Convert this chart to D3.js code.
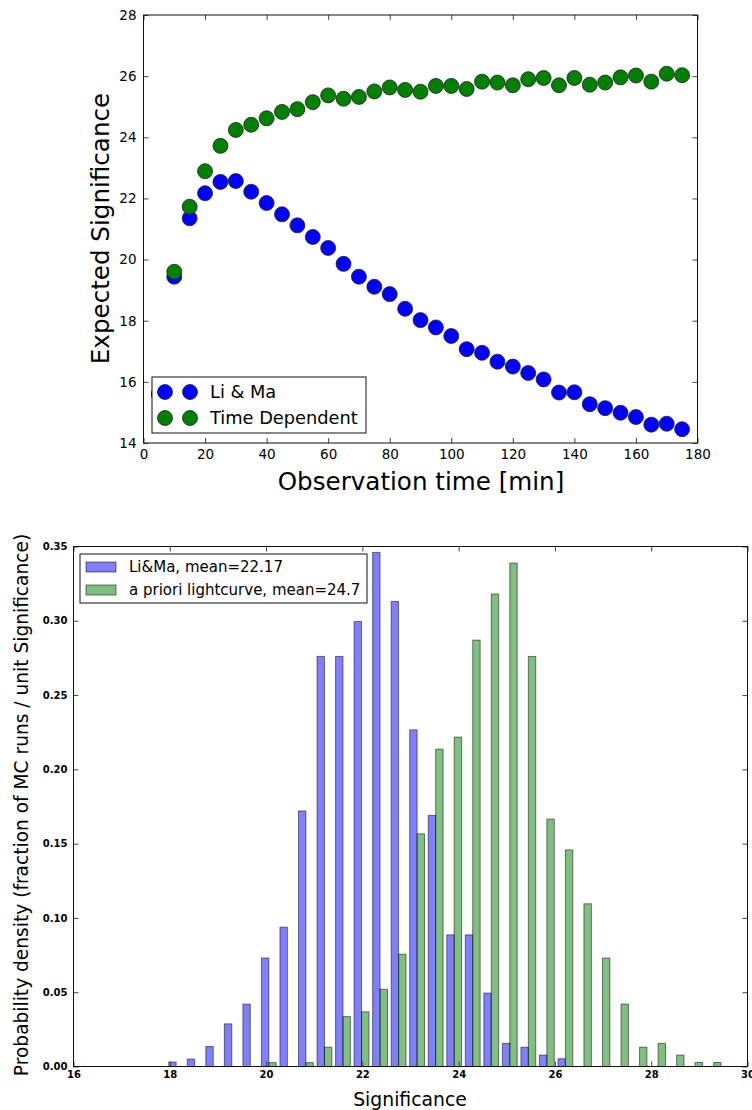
<!DOCTYPE html>
<html>
<head>
<meta charset="utf-8">
<script src="https://cdnjs.cloudflare.com/ajax/libs/d3/7.8.5/d3.min.js"></script>
<style>
  body { margin: 0; background: #fff; }
  svg { display: block; font-family: 'DejaVu Sans', sans-serif; }
  .tick text { fill: #000; }
</style>
</head>
<body>
<div class="canvas"></div>
<script>
// ---- top chart data: expected significance vs observation time
const obsTime = [5, 10, 15, 20, 25, 30, 35, 40, 45, 50, 55, 60, 65, 70, 75, 80, 85, 90,
  95, 100, 105, 110, 115, 120, 125, 130, 135, 140, 145, 150, 155, 160, 165, 170, 175];
const liMa = [15.6, 19.44, 21.35, 22.17, 22.54, 22.57, 22.22, 21.85, 21.48, 21.12, 20.74, 20.38,
  19.86, 19.44, 19.11, 18.87, 18.39, 18.02, 17.78, 17.50, 17.07, 16.95, 16.66, 16.50,
  16.29, 16.08, 15.65, 15.66, 15.27, 15.14, 14.99, 14.85, 14.60, 14.63, 14.45];
const timeDep = [15.6, 19.60, 21.73, 22.89, 23.72, 24.24, 24.41, 24.62, 24.83, 24.92, 25.15, 25.37,
  25.26, 25.32, 25.50, 25.63, 25.55, 25.49, 25.68, 25.68, 25.58, 25.82, 25.79, 25.70,
  25.90, 25.94, 25.70, 25.94, 25.72, 25.79, 25.96, 26.02, 25.82, 26.08, 26.03];
const topXTicks = [0, 20, 40, 60, 80, 100, 120, 140, 160, 180];
const topYTicks = [14, 16, 18, 20, 22, 24, 26, 28];

// ---- bottom chart data: histogram of significances (30 bins)
const binEdges = [17.94, 18.325, 18.71, 19.095, 19.48, 19.865, 20.25, 20.635, 21.02, 21.405,
  21.79, 22.175, 22.56, 22.945, 23.33, 23.715, 24.10, 24.485, 24.87, 25.255,
  25.64, 26.025, 26.41, 26.795, 27.18, 27.565, 27.95, 28.335, 28.72, 29.105, 29.49];
const densLiMa = [0.003, 0.005, 0.0135, 0.0287, 0.042, 0.073, 0.0938, 0.172, 0.276, 0.276,
  0.2995, 0.346, 0.313, 0.2266, 0.169, 0.0886, 0.0886, 0.0494, 0.0156, 0.013,
  0.0077, 0.0052, 0, 0, 0, 0, 0, 0, 0, 0];
const densPriori = [0, 0, 0, 0, 0, 0.0026, 0, 0.0026, 0.013, 0.0336,
  0.0368, 0.052, 0.0756, 0.1566, 0.2136, 0.2217, 0.287, 0.318, 0.3388, 0.276,
  0.1665, 0.1458, 0.1095, 0.073, 0.042, 0.013, 0.0156, 0.0077, 0.0027, 0.0027];
const botXTicks = [16, 18, 20, 22, 24, 26, 28, 30];
const botYTicks = [0, 0.05, 0.10, 0.15, 0.20, 0.25, 0.30, 0.35];

const svg = d3.select('.canvas')
  .append('svg')
  .attr('width', 752)
  .attr('height', 1110);

// helper: matplotlib-classic style frame with inward ticks on all four sides
const drawFrame = (g, x, y, xTicks, yTicks, xFmt, yFmt, opts) => {
  const [x0, x1] = x.range();
  const [y0, y1] = y.range();

  const bottom = g.append('g')
    .attr('transform', `translate(0, ${y0})`)
    .call(d3.axisBottom(x).tickValues(xTicks).tickSize(-5).tickPadding(opts.xPad).tickFormat(xFmt));
  const top = g.append('g')
    .attr('transform', `translate(0, ${y1})`)
    .call(d3.axisTop(x).tickValues(xTicks).tickSize(-5).tickFormat(''));
  const left = g.append('g')
    .attr('transform', `translate(${x0}, 0)`)
    .call(d3.axisLeft(y).tickValues(yTicks).tickSize(-5).tickPadding(opts.yPad).tickFormat(yFmt));
  const right = g.append('g')
    .attr('transform', `translate(${x1}, 0)`)
    .call(d3.axisRight(y).tickValues(yTicks).tickSize(-5).tickFormat(''));

  [bottom, top, left, right].forEach(a => {
    a.select('.domain').remove();
    a.selectAll('line').attr('stroke', '#444');
    a.selectAll('text')
      .attr('font-family', 'DejaVu Sans')
      .attr('font-size', opts.fontSize)
      .attr('font-weight', opts.weight)
      .attr('fill', opts.color);
  });

  g.append('rect')
    .attr('x', x0)
    .attr('y', y1)
    .attr('width', x1 - x0)
    .attr('height', y0 - y1)
    .attr('fill', 'none')
    .attr('stroke', '#111')
    .attr('stroke-width', 1);
};

// ================= top scatter chart =================
const xTop = d3.scaleLinear().domain([0, 180]).range([143.5, 697.5]);
const yTop = d3.scaleLinear().domain([14, 28]).range([443, 15]);

const graphTop = svg.append('g');

const series = [
  { name: 'Li & Ma', values: liMa, color: '#0000ff' },
  { name: 'Time Dependent', values: timeDep, color: '#008000' }
];

series.forEach(s => {
  graphTop.append('g')
    .selectAll('circle')
    .data(obsTime.map((t, i) => ({ t, v: s.values[i] })))
    .enter()
    .append('circle')
      .attr('cx', d => xTop(d.t))
      .attr('cy', d => yTop(d.v))
      .attr('r', 7.5)
      .attr('fill', s.color)
      .attr('stroke', '#222')
      .attr('stroke-width', 0.8);
});

drawFrame(graphTop, xTop, yTop, topXTicks, topYTicks, d3.format('d'), d3.format('d'),
  { fontSize: '13.5px', weight: 'normal', color: '#111', xPad: 6, yPad: 7 });

// top legend
const legTop = graphTop.append('g').attr('transform', 'translate(152, 377)');
legTop.append('rect')
  .attr('width', 214)
  .attr('height', 56)
  .attr('fill', '#fff')
  .attr('stroke', '#111');
series.forEach((s, i) => {
  const row = legTop.append('g').attr('transform', `translate(0, ${15 + i * 26})`);
  [13, 38].forEach(cx => {
    row.append('circle')
      .attr('cx', cx)
      .attr('cy', 0)
      .attr('r', 7.5)
      .attr('fill', s.color)
      .attr('stroke', '#222')
      .attr('stroke-width', 0.8);
  });
  row.append('text')
    .attr('x', 58)
    .attr('y', 0)
    .attr('dy', '0.35em')
    .attr('font-size', '17.8px')
    .text(s.name);
});

// top axis labels
svg.append('text')
  .attr('x', 421)
  .attr('y', 490)
  .attr('text-anchor', 'middle')
  .attr('font-size', '24.6px')
  .text('Observation time [min]');
svg.append('text')
  .attr('transform', 'translate(109, 228.5) rotate(-90)')
  .attr('text-anchor', 'middle')
  .attr('font-size', '24.6px')
  .text('Expected Significance');

// ================= bottom histogram =================
const xBot = d3.scaleLinear().domain([16, 30]).range([73.5, 747.5]);
const yBot = d3.scaleLinear().domain([0, 0.35]).range([1066.5, 546.5]);

const graphBot = svg.append('g');

const hist = [
  { name: 'Li&Ma, mean=22.17', values: densLiMa, fill: 'rgba(0,0,255,0.5)', offset: 0.1 },
  { name: 'a priori lightcurve, mean=24.7', values: densPriori, fill: 'rgba(0,128,0,0.5)', offset: 0.5 }
];

hist.forEach(h => {
  graphBot.append('g')
    .selectAll('rect')
    .data(h.values.map((v, i) => ({ lo: binEdges[i], hi: binEdges[i + 1], v })))
    .enter()
    .append('rect')
      .attr('x', d => xBot(d.lo + h.offset * (d.hi - d.lo)))
      .attr('width', d => xBot(d.lo + 0.4 * (d.hi - d.lo)) - xBot(d.lo))
      .attr('y', d => yBot(d.v))
      .attr('height', d => yBot(0) - yBot(d.v))
      .attr('fill', h.fill)
      .attr('stroke', 'rgba(0,0,0,0.5)')
      .attr('stroke-width', 1);
});

drawFrame(graphBot, xBot, yBot, botXTicks, botYTicks, d3.format('d'), d3.format('.2f'),
  { fontSize: '10px', weight: 'bold', color: '#222', xPad: 4, yPad: 6 });

// bottom legend
const legBot = graphBot.append('g').attr('transform', 'translate(80, 554)');
legBot.append('rect')
  .attr('width', 287)
  .attr('height', 49)
  .attr('fill', '#fff')
  .attr('stroke', '#111');
hist.forEach((h, i) => {
  const row = legBot.append('g').attr('transform', `translate(0, ${13 + i * 23})`);
  row.append('rect')
    .attr('x', 6)
    .attr('y', -5)
    .attr('width', 30)
    .attr('height', 10)
    .attr('fill', h.fill)
    .attr('stroke', 'rgba(0,0,0,0.5)');
  row.append('text')
    .attr('x', 49)
    .attr('y', 0)
    .attr('dy', '0.35em')
    .attr('font-size', '15px')
    .text(h.name);
});

// bottom axis labels
svg.append('text')
  .attr('x', 410)
  .attr('y', 1106)
  .attr('text-anchor', 'middle')
  .attr('font-size', '18.8px')
  .text('Significance');
svg.append('text')
  .attr('transform', 'translate(28, 805) rotate(-90)')
  .attr('text-anchor', 'middle')
  .attr('font-size', '18.6px')
  .text('Probability density (fraction of MC runs / unit Significance)');
</script>
</body>
</html>
